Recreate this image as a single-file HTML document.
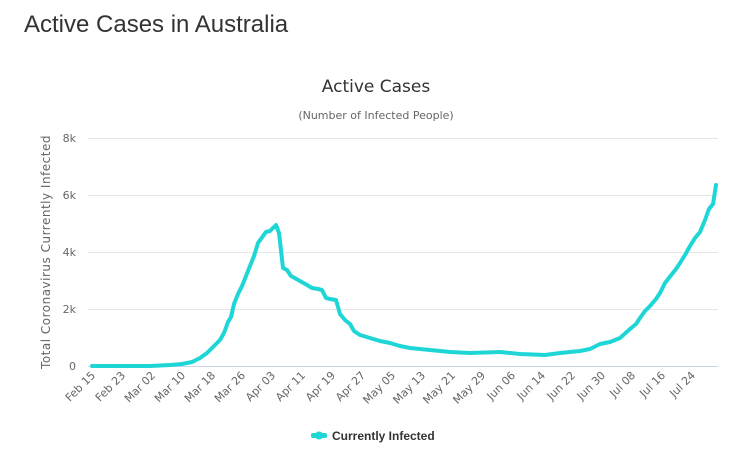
<!DOCTYPE html>
<html><head><meta charset="utf-8"><style>
body{margin:0;background:#fff;width:736px;height:461px;overflow:hidden;font-family:"Liberation Sans",sans-serif}
</style></head><body>
<svg width="736" height="461" xmlns="http://www.w3.org/2000/svg" font-family="DejaVu Sans, Liberation Sans, sans-serif">
<text x="24" y="32" font-family="Liberation Sans, sans-serif" font-size="24" fill="#333">Active Cases in Australia</text>
<text x="376" y="92" text-anchor="middle" font-size="17" fill="#333">Active Cases</text>
<text x="376" y="119" text-anchor="middle" font-size="11" fill="#666">(Number of Infected People)</text>
<g stroke="#e6e6e6" stroke-width="1">
<line x1="88" x2="718" y1="138.5" y2="138.5"/><line x1="88" x2="718" y1="195.5" y2="195.5"/>
<line x1="88" x2="718" y1="252.5" y2="252.5"/><line x1="88" x2="718" y1="309.5" y2="309.5"/>
</g>
<line x1="88" x2="718" y1="366.5" y2="366.5" stroke="#ccd6eb"/>
<g font-size="11" fill="#666" text-anchor="end">
<text x="76" y="142">8k</text><text x="76" y="199">6k</text><text x="76" y="256">4k</text><text x="76" y="313">2k</text><text x="76" y="370">0</text>
</g>
<text transform="translate(50,252) rotate(-90)" text-anchor="middle" font-size="12" letter-spacing="0.5" fill="#666">Total Coronavirus Currently Infected</text>
<g font-size="11" fill="#666" text-anchor="end">
<text transform="translate(96,376) rotate(-45)">Feb 15</text>
<text transform="translate(126,376) rotate(-45)">Feb 23</text>
<text transform="translate(156,376) rotate(-45)">Mar 02</text>
<text transform="translate(186,376) rotate(-45)">Mar 10</text>
<text transform="translate(216,376) rotate(-45)">Mar 18</text>
<text transform="translate(246,376) rotate(-45)">Mar 26</text>
<text transform="translate(276,376) rotate(-45)">Apr 03</text>
<text transform="translate(306,376) rotate(-45)">Apr 11</text>
<text transform="translate(336,376) rotate(-45)">Apr 19</text>
<text transform="translate(366,376) rotate(-45)">Apr 27</text>
<text transform="translate(396,376) rotate(-45)">May 05</text>
<text transform="translate(426,376) rotate(-45)">May 13</text>
<text transform="translate(456,376) rotate(-45)">May 21</text>
<text transform="translate(486,376) rotate(-45)">May 29</text>
<text transform="translate(516,376) rotate(-45)">Jun 06</text>
<text transform="translate(546,376) rotate(-45)">Jun 14</text>
<text transform="translate(576,376) rotate(-45)">Jun 22</text>
<text transform="translate(606,376) rotate(-45)">Jun 30</text>
<text transform="translate(636,376) rotate(-45)">Jul 08</text>
<text transform="translate(666,376) rotate(-45)">Jul 16</text>
<text transform="translate(696,376) rotate(-45)">Jul 24</text>
</g>
<polyline fill="none" stroke="#1ed6d6" stroke-width="4" stroke-linejoin="round" stroke-linecap="round" points="92,366 150,366 170,365 182,364 192,362 200,358 207,353 214,346 220,340 224,333 228,322 231,317 234,304 238,294 242,286 246,276 250,266 254,256 258,243 263,236 266,232 270,231 273,228 276,225 279,233 283,268 287,270 291,276 300,281 307,285 312,288 318,289 322,290 326,298 330,299 336,300 340,314 345,320 350,324 354,331 360,335 370,338 380,341 390,343 400,346 410,348 420,349 430,350 450,352 470,353 500,352 520,354 545,355 560,353 580,351 590,349 600,344 610,342 620,338 630,329 636,324 640,318 645,311 650,306 656,299 660,293 665,283 672,274 676,269 680,263 685,255 690,246 695,238 700,232 705,220 709,209 713,204 716,185"/>
<rect x="311" y="433" width="16" height="5" rx="2" fill="#1ed6d6"/>
<circle cx="319" cy="435.5" r="4" fill="#1ed6d6"/>
<text x="332" y="440" font-family="Liberation Sans, sans-serif" font-size="12" font-weight="bold" fill="#333">Currently Infected</text>
</svg>
</body></html>
